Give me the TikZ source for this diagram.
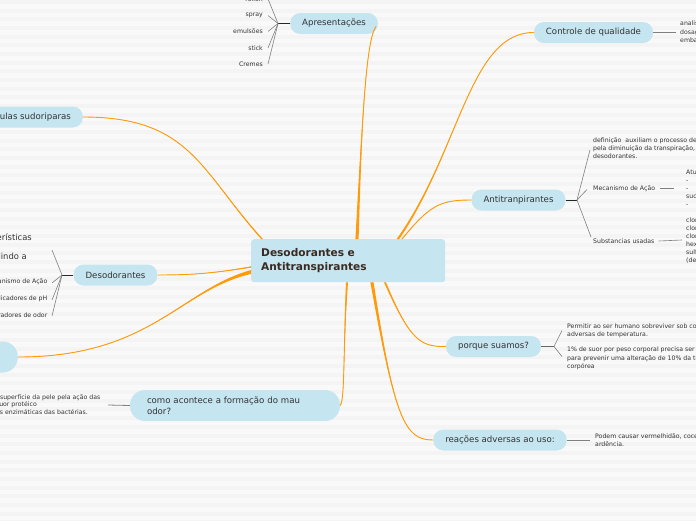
\documentclass[tikz,border=0pt]{standalone}
\usepackage{fontspec}
\setmainfont{DejaVu Sans}
\usetikzlibrary{calc}
\definecolor{bg}{HTML}{F9F9F9}
\definecolor{stripe}{HTML}{F4F4F4}
\definecolor{nodeblue}{HTML}{C5E5F0}
\definecolor{conn}{HTML}{FF9A0A}
\definecolor{txt}{HTML}{333333}
\definecolor{ctxt}{HTML}{3A2A22}
\definecolor{leafline}{HTML}{808080}
\newcommand\taperconn[5]{%
  \fill[conn] ($#1+(#5)$) .. controls #2 and #3 .. #4 .. controls #3 and #2 .. ($#1-(#5)$) -- cycle;
  \draw[conn, line width=0.9pt] #1 .. controls #2 and #3 .. #4;}
\begin{document}
\begin{tikzpicture}[x=1pt,y=-1pt,
 topic/.style={fill=nodeblue, rounded corners=10pt, minimum height=21pt, inner xsep=12pt, inner ysep=0pt, font=\fontsize{8.6}{10}\selectfont, text=txt},
 leaf/.style={font=\fontsize{6.2}{8.4}\selectfont, text=txt, inner sep=0pt, align=left},
 bigleaf/.style={font=\fontsize{8.4}{9}\selectfont, text=txt, inner sep=0pt},
 junction/.style={draw=black!85, line width=1pt},
 leafconn/.style={draw=leafline, line width=0.6pt},
]
\useasboundingbox (0,0) rectangle (696,520);
\clip (0,0) rectangle (696,520);
\fill[bg] (0,0) rectangle (696,520);
\foreach \k in {0,...,60} {\fill[stripe] (0,{\k*8.67}) rectangle (696,{\k*8.67+4});}

% central
\node[fill=nodeblue, rounded corners=3pt, minimum width=194pt, minimum height=43pt, text width=174pt, inner xsep=10pt, align=left, font=\bfseries\fontsize{10.6}{14}\selectfont, text=ctxt, anchor=north west] (c) at (251,239) {Desodorantes e\\Antitranspirantes};

% main topics
\node[topic] (apres) at (334,23.5) {Apresentações};
\node[topic] (ctrl) at (593.5,32.5) {Controle de qualidade};
\node[topic] (anti) at (518.5,200) {Antitranpirantes};
\node[topic] (porq) at (493.5,346.5) {porque suamos?};
\node[topic] (reac) at (500,440) {reações adversas ao uso:};
\node[topic, rounded corners=15pt, minimum height=31pt, text width=176pt, inner xsep=17pt, align=left, font=\fontsize{8.6}{11.5}\selectfont] (odor) at (235,405.5) {como acontece a formação do mau\\odor?};
\node[topic] (deso) at (115.5,275) {Desodorantes};
\node[topic, anchor=east] (glan) at (83,117) {Glândulas sudoriparas};
\node[topic, anchor=east, rounded corners=15pt, minimum height=31pt, minimum width=90pt] (lnode) at (18,357) {};

% branch start points
\coordinate (sApres) at ($(c.north west)+(106,0)$);
\coordinate (sCtrl) at ($(c.north west)+(147,0)$);
\coordinate (sAnti) at ($(c.north west)+(151,0)$);
\coordinate (sGlan) at ($(c.north west)+(11,0)$);
\coordinate (sDeso) at ($(c.north west)+(0,28)$);
\coordinate (sLeft) at ($(c.north west)+(0,33)$);
\coordinate (sPorq) at ($(c.south west)+(134,0)$);
\coordinate (sReac) at ($(c.south west)+(121,0)$);
\coordinate (sOdor) at ($(c.south west)+(96,0)$);
\coordinate (eApres) at ($(apres.east)+(-2,3)$);

\taperconn{(sApres)}{(362,120)}{(366,40)}{(eApres)}{1.6,0}
\taperconn{(sCtrl)}{(460,150)}{(470,32)}{(ctrl.west)}{1.3,0}
\taperconn{(sAnti)}{(430,205)}{(440,200)}{(anti.west)}{0.3,0}
\taperconn{(sGlan)}{(200,170)}{(190,117)}{(glan.east)}{0.8,0}
\taperconn{(sDeso)}{(220,272)}{(200,275)}{(deso.east)}{0,0.6}
\taperconn{(sLeft)}{(180,290)}{(150,357)}{(lnode.east)}{0,2}
\taperconn{(sPorq)}{(410,340)}{(420,347)}{(porq.west)}{1,0}
\taperconn{(sReac)}{(395,420)}{(405,440)}{(reac.west)}{1.6,0}
\taperconn{(sOdor)}{(343,350)}{(345,400)}{(odor.east)}{1,0}

% Apresentacoes leaves
\coordinate (jA) at (278,23.5);
\draw[junction] (apres.west) -- (jA);
\foreach \t/\yy [count=\i] in {rollon/-1, spray/15.5, emulsões/31.5, stick/48, Cremes/64} {
  \node[leaf, anchor=east] (la\i) at (263,\yy) {\t};
  \draw[leafconn] (jA) -- ($(la\i.east)+(5,0)$);
}

% Desodorantes leaves
\coordinate (jD) at (62,275);
\draw[junction] (deso.west) -- (jD);
\node[bigleaf, anchor=east] (ld0) at (32,237) {Características};
\node[bigleaf, anchor=east] (ld1) at (27,256) {Abolindo a};
\coordinate (ld1c) at (52,250);
\draw[leafconn] (jD) -- (ld1c);
\node[leaf, anchor=east] (ld2) at (47.5,282) {Mecanismo de Ação};
\node[leaf, anchor=east] (ld3) at (47.5,299) {Indicadores de pH};
\node[leaf, anchor=east] (ld4) at (47.5,315) {Mascaradores de odor};
\foreach \i in {2,3,4} {\draw[leafconn] (jD) -- ($(ld\i.east)+(4.5,1)$);}

% Controle leaf
\node[leaf, anchor=west, font=\fontsize{6.2}{8.5}\selectfont] (lc) at (680,32.5) {analise\\dosagem\\embalagem};
\draw[leafconn] (ctrl.east) -- ($(lc.west)+(-4,0)$);

% Antitranspirantes leaves
\coordinate (jT) at (577,200);
\draw[junction] (anti.east) -- (jT);
\node[leaf, anchor=west, font=\fontsize{6.2}{8}\selectfont] (lt1) at (593,148) {definição\ \ auxiliam o processo de desodorização\\pela diminuição da transpiração, como os\\desodorantes.};
\node[leaf, anchor=west] (lt2) at (593,188.5) {Mecanismo de Ação};
\node[leaf, anchor=west] (lt3) at (593,241) {Substancias usadas};
\draw[leafconn] (jT) -- ($(lt1.west)+(-3,2)$);
\draw[leafconn] (jT) -- ($(lt2.west)+(-6,1)$);
\draw[leafconn] (jT) -- ($(lt3.west)+(-2,-4)$);
\node[leaf, anchor=west, font=\fontsize{6.2}{8}\selectfont] (lt2a) at (686,188.5) {Atuam reduzindo o suor\\-\\-\\sucessiva das glândulas\\-};
\draw[leafconn] ($(lt2.east)+(5,0)$) -- ($(lt2a.west)+(-12,0)$);
\node[leaf, anchor=west, font=\fontsize{6.2}{8}\selectfont] (lt3a) at (686,240) {cloreto de alumínio\\cloridrato de alumínio\\cloridrato de zircônio\\hexaclorofeno\\sulfato de alumínio\\(desodorantes)};
\draw[leafconn] ($(lt3.east)+(4,0)$) -- ($(lt3a.west)+(-4,0)$);

% porque suamos leaves
\coordinate (jP) at (554,346.5);
\draw[junction, draw=black!60] (porq.east) -- (jP);
\node[leaf, anchor=west] (lp1) at (567,330.5) {Permitir ao ser humano sobreviver sob condições\\adversas de temperatura.};
\node[leaf, anchor=west] (lp2) at (567,358.5) {1\% de suor por peso corporal precisa ser evaporado\\para prevenir uma alteração de 10\% da temperatura\\corpórea};
\draw[leafconn] (jP) -- ($(lp1.west)+(-5,0)$);
\draw[leafconn] (jP) -- ($(lp2.west)+(-5,-2)$);

% reacoes leaf
\node[leaf, anchor=west] (lr) at (595,440) {Podem causar vermelhidão, coceira e\\ardência.};
\draw[leafconn] (reac.east) -- ($(lr.west)+(-5,0)$);

% mau odor leaf
\node[leaf, anchor=east] (lo1) at (100.5,397) {É formado na superfície da pele pela ação das};
\node[leaf, anchor=east] (lo2) at (37,405) {degradação do suor protéico};
\node[leaf, anchor=east] (lo3) at (88,413) {por ações enzimáticas das bactérias.};
\coordinate (lo) at (108,405);
\draw[leafconn, line width=0.8pt] (odor.west) -- (lo);
\end{tikzpicture}
\end{document}
